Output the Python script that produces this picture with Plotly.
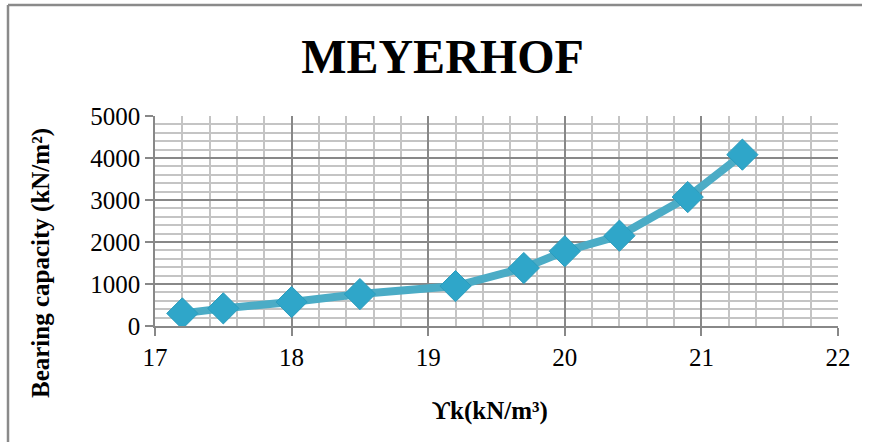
import plotly.graph_objects as go

unit_weight = [17.2, 17.5, 18.0, 18.5, 19.2, 19.7, 20.0, 20.4, 20.9, 21.3]
bearing_capacity = [300, 420, 570, 760, 950, 1380, 1780, 2150, 3070, 4080]
x_ticks = [17, 18, 19, 20, 21, 22]
y_ticks = [0, 1000, 2000, 3000, 4000, 5000]

W, H = 871, 442
L, R, T, B = 155, 33, 116, 116
PW, PH = W - L - R, H - T - B


def px(x):
    return (x - L) / PW


def py(y):
    return (H - B - y) / PH


fig = go.Figure()
fig.add_trace(go.Scatter(
    x=unit_weight, y=bearing_capacity, mode="lines+markers",
    line=dict(color="#4BACC6", width=8),
    marker=dict(symbol="diamond", size=24, color="#2FA6C9",
                line=dict(color="#2A9CBD", width=1)),
    showlegend=False,
))

font_serif = "Liberation Serif, Times New Roman, serif"
fig.update_layout(
    width=W, height=H,
    margin=dict(l=L, r=R, t=T, b=B, autoexpand=False),
    paper_bgcolor="white", plot_bgcolor="white",
    font=dict(family=font_serif, color="black"),
    title=dict(text="<b>MEYERHOF</b>", x=0.508, xanchor="center",
               y=0.873, yanchor="middle", yref="container",
               font=dict(size=48, family=font_serif, color="black")),
    xaxis=dict(range=[17, 22], tickvals=x_ticks, ticks="outside", ticklen=8,
               tickcolor="#888888", tickwidth=1.5,
               showline=True, linecolor="#888888", linewidth=1.5,
               showgrid=True, gridcolor="#888888", gridwidth=1.5,
               minor=dict(dtick=0.2, showgrid=True, gridcolor="#C4C4C4", gridwidth=1.5),
               tickfont=dict(size=25, family=font_serif), zeroline=False),
    yaxis=dict(range=[0, 5000], tickvals=y_ticks, ticks="outside", ticklen=8,
               tickcolor="#888888", tickwidth=1.5,
               showline=True, linecolor="#888888", linewidth=1.5,
               showgrid=True, gridcolor="#888888", gridwidth=1.5,
               minor=dict(dtick=200, showgrid=True, gridcolor="#C4C4C4", gridwidth=1.5),
               tickfont=dict(size=25, family=font_serif), zeroline=False),
)

fig.add_annotation(text="<b>Bearing capacity (kN/m²)</b>", textangle=-90,
                   x=px(41), y=py(263), xref="paper", yref="paper", showarrow=False,
                   xanchor="center", yanchor="middle",
                   font=dict(size=25, family=font_serif))
fig.add_annotation(text="<b>ϒk(kN/m³)</b>",
                   x=px(490), y=py(411), xref="paper", yref="paper", showarrow=False,
                   xanchor="center", yanchor="middle",
                   font=dict(size=25, family=font_serif))

fig.update_layout(shapes=[
    dict(type="line", xref="paper", yref="paper",
         x0=px(8), x1=px(862), y0=py(5), y1=py(5),
         line=dict(color="#8A8A8A", width=2.5)),
    dict(type="line", xref="paper", yref="paper",
         x0=px(8), x1=px(8), y0=py(5), y1=py(H + 5),
         line=dict(color="#8A8A8A", width=2.5)),
])

fig.write_html("out.html", config={"displayModeBar": False},
               post_script="document.body.style.margin='0';document.body.style.overflow='hidden';")
